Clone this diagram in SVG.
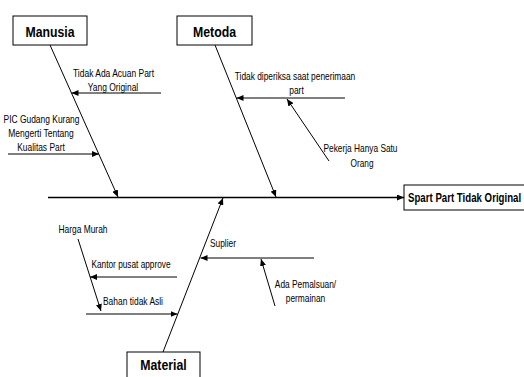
<svg xmlns="http://www.w3.org/2000/svg" width="524" height="377" viewBox="0 0 524 377">
<style>
.box{fill:#fff;stroke:#000;stroke-width:1}
.title{font-family:"Liberation Sans",Arial,sans-serif;font-weight:bold;font-size:15px;fill:#000;text-anchor:middle}
.head{font-family:"Liberation Sans",Arial,sans-serif;font-weight:bold;font-size:12.4px;fill:#000}
.lbl{font-family:"Liberation Sans",Arial,sans-serif;font-size:10.5px;fill:#000;text-anchor:middle}
.ln{stroke:#000;stroke-width:1;fill:none}
.arr{marker-end:url(#ah)}
</style>
<defs>
<marker id="ah" markerWidth="8" markerHeight="6" refX="7" refY="3" orient="auto" markerUnits="userSpaceOnUse">
<path d="M0,0 L7,3 L0,6 Z" fill="#000"/>
</marker>
</defs>
<rect width="524" height="377" fill="#fff"/>
<g id="connectors">
<line class="ln arr" x1="48" y1="197.5" x2="404" y2="197.5" style="stroke-width:1.3"/>
<line class="ln arr" x1="50" y1="45" x2="118" y2="197"/>
<line class="ln arr" x1="215" y1="45" x2="276" y2="197"/>
<line class="ln arr" x1="163" y1="352" x2="223" y2="198"/>
<line class="ln arr" x1="161" y1="93" x2="71.5" y2="93"/>
<line class="ln arr" x1="8" y1="154" x2="99" y2="154"/>
<line class="ln arr" x1="345" y1="98" x2="236.5" y2="98"/>
<line class="ln arr" x1="329" y1="161" x2="287" y2="99"/>
<line class="ln arr" x1="78" y1="239" x2="101" y2="311"/>
<line class="ln arr" x1="177" y1="277" x2="90" y2="277"/>
<line class="ln arr" x1="86" y1="314" x2="177.5" y2="314"/>
<line class="ln arr" x1="314" y1="258" x2="200.5" y2="258"/>
<line class="ln arr" x1="275" y1="306" x2="261" y2="259"/>
</g>
<g id="manusia">
<rect class="box" x="13" y="16" width="74" height="29"/>
<text class="title" x="50" y="37" textLength="49" lengthAdjust="spacingAndGlyphs">Manusia</text>
</g>
<g id="metoda">
<rect class="box" x="177" y="16" width="75" height="29"/>
<text class="title" x="214.5" y="37" textLength="43" lengthAdjust="spacingAndGlyphs">Metoda</text>
</g>
<g id="material">
<rect class="box" x="127" y="352" width="73" height="32"/>
<text class="title" x="163.5" y="370" textLength="46.5" lengthAdjust="spacingAndGlyphs">Material</text>
</g>
<g id="effect">
<rect class="box" x="404" y="185" width="130" height="25"/>
<text class="head" transform="translate(408,202) scale(0.78,1)" x="0" y="0">Spart Part Tidak Original</text>
</g>
<g id="cause-tidak-ada-acuan">
<text class="lbl" x="113.5" y="77" textLength="81" lengthAdjust="spacingAndGlyphs">Tidak Ada Acuan Part</text>
<text class="lbl" x="113" y="91" textLength="50.5" lengthAdjust="spacingAndGlyphs">Yang Original</text>
</g>
<g id="cause-pic-gudang">
<text class="lbl" x="41.5" y="122.5" textLength="76" lengthAdjust="spacingAndGlyphs">PIC Gudang Kurang</text>
<text class="lbl" x="41" y="136.5" textLength="65.5" lengthAdjust="spacingAndGlyphs">Mengerti Tentang</text>
<text class="lbl" x="41" y="150.5" textLength="47.5" lengthAdjust="spacingAndGlyphs">Kualitas Part</text>
</g>
<g id="cause-tidak-diperiksa">
<text class="lbl" x="295" y="80" textLength="120.5" lengthAdjust="spacingAndGlyphs">Tidak diperiksa saat penerimaan</text>
<text class="lbl" x="296.5" y="94" textLength="14.5" lengthAdjust="spacingAndGlyphs">part</text>
</g>
<g id="cause-pekerja">
<text class="lbl" x="360.5" y="152" textLength="74" lengthAdjust="spacingAndGlyphs">Pekerja Hanya Satu</text>
<text class="lbl" x="362" y="166.5" textLength="23" lengthAdjust="spacingAndGlyphs">Orang</text>
</g>
<g id="cause-harga-murah">
<text class="lbl" x="83" y="233" textLength="49" lengthAdjust="spacingAndGlyphs">Harga Murah</text>
</g>
<g id="cause-kantor-pusat">
<text class="lbl" x="131" y="268" textLength="79" lengthAdjust="spacingAndGlyphs">Kantor pusat approve</text>
</g>
<g id="cause-bahan">
<text class="lbl" x="133" y="305" textLength="60" lengthAdjust="spacingAndGlyphs">Bahan tidak Asli</text>
</g>
<g id="cause-suplier">
<text class="lbl" x="223" y="247" textLength="26" lengthAdjust="spacingAndGlyphs">Suplier</text>
</g>
<g id="cause-pemalsuan">
<text class="lbl" x="305.5" y="288" textLength="61.3" lengthAdjust="spacingAndGlyphs">Ada Pemalsuan/</text>
<text class="lbl" x="305.5" y="302" textLength="39.4" lengthAdjust="spacingAndGlyphs">permainan</text>
</g>
</svg>
